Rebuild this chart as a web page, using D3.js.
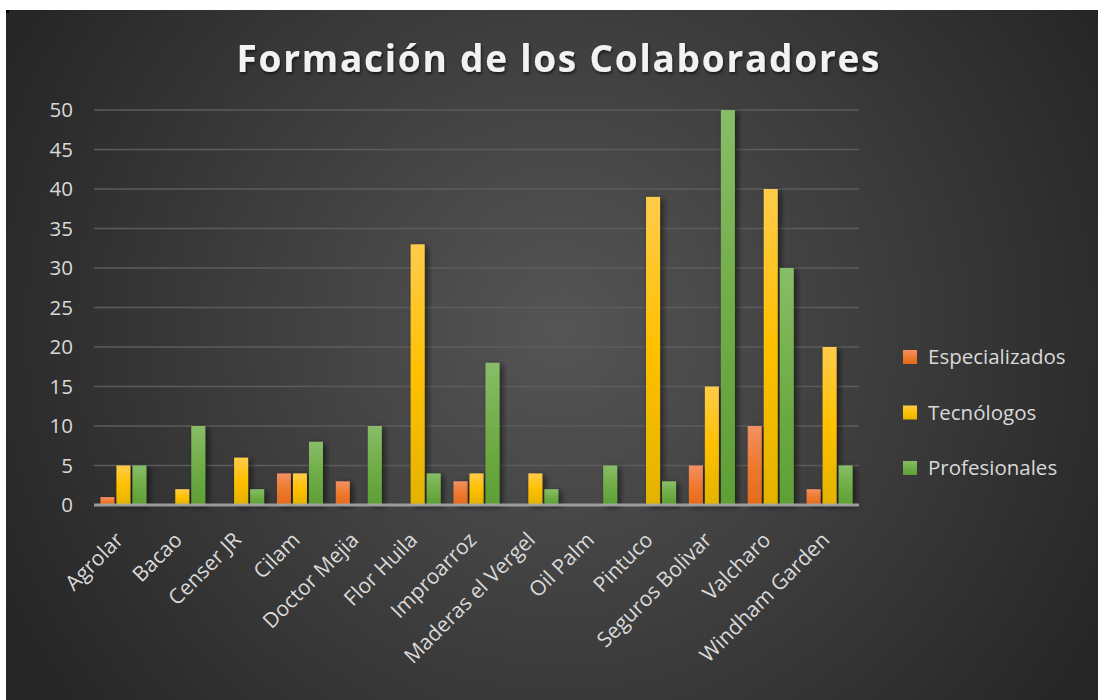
<!DOCTYPE html>
<html>
<head>
<meta charset="utf-8">
<script src="https://cdn.jsdelivr.net/npm/d3@7"></script>
<style>
  html, body { margin: 0; padding: 0; background: #ffffff; }
  svg { display: block; }
  text { font-family: "Open Sans", "Noto Sans", sans-serif; }
</style>
</head>
<body>
<div id="chart"></div>
<script>
// data
var categories = ["Agrolar", "Bacao", "Censer JR", "Cilam", "Doctor Mejia", "Flor Huila",
    "Improarroz", "Maderas el Vergel", "Oil Palm", "Pintuco", "Seguros Bolivar", "Valcharo", "Windham Garden"];
var seriesNames = ["Especializados", "Tecnólogos", "Profesionales"];
var especializados = [1, 0, 0, 4, 3, 0, 3, 0, 0, 0, 5, 10, 2];
var tecnologos     = [5, 2, 6, 4, 0, 33, 4, 4, 0, 39, 15, 40, 20];
var profesionales  = [5, 10, 2, 8, 10, 4, 18, 2, 5, 3, 50, 30, 5];
var yTicks = [0, 5, 10, 15, 20, 25, 30, 35, 40, 45, 50];
var seriesValues = [especializados, tecnologos, profesionales];

var W = 1099, H = 700;
var svg = d3.select("#chart").append("svg").attr("width", W).attr("height", H);
var defs = svg.append("defs");

var bg = defs.append("radialGradient").attr("id", "bg")
    .attr("gradientUnits", "userSpaceOnUse")
    .attr("cx", 560).attr("cy", 330).attr("r", 620);
bg.append("stop").attr("offset", "0%").attr("stop-color", "#555555");
bg.append("stop").attr("offset", "100%").attr("stop-color", "#262626");

// bar gradients, lighter at the top
var grads = [
    ["#f39063", "#ee7a2f", "#e46a1c"],
    ["#ffcc4a", "#ffc000", "#e3b300"],
    ["#88bd68", "#70ad47", "#5e9f35"]
];
grads.forEach(function(g, i) {
    var lg = defs.append("linearGradient").attr("id", "bar" + i)
        .attr("x1", 0).attr("y1", 0).attr("x2", 0).attr("y2", 1);
    lg.append("stop").attr("offset", "0%").attr("stop-color", g[0]);
    lg.append("stop").attr("offset", "50%").attr("stop-color", g[1]);
    lg.append("stop").attr("offset", "100%").attr("stop-color", g[2]);
});

var shadow = defs.append("filter").attr("id", "shadow")
    .attr("x", "-50%").attr("y", "-10%").attr("width", "200%").attr("height", "130%");
shadow.append("feDropShadow").attr("dx", 3).attr("dy", 2).attr("stdDeviation", 3)
    .attr("flood-color", "#000").attr("flood-opacity", 0.55);

var tshadow = defs.append("filter").attr("id", "tshadow")
    .attr("x", "-10%").attr("y", "-30%").attr("width", "120%").attr("height", "160%");
tshadow.append("feDropShadow").attr("dx", 1).attr("dy", 2).attr("stdDeviation", 1.5)
    .attr("flood-color", "#000").attr("flood-opacity", 0.6);

svg.append("rect").attr("x", 6).attr("y", 10).attr("width", 1092).attr("height", 690)
    .attr("fill", "url(#bg)");
svg.append("rect").attr("x", 6).attr("y", 10).attr("width", 3).attr("height", 3).attr("fill", "#000");

var plotL = 94, plotR = 859, plotT = 110, plotB = 505;

var x = d3.scaleBand().domain(categories).range([plotL, plotR]).padding(0);
var bw = x.bandwidth();
var groupW = 46;
var xs = d3.scaleBand().domain(d3.range(3))
    .range([(bw - groupW) / 2, (bw + groupW) / 2])
    .paddingInner(0.125).paddingOuter(0);
var y = d3.scaleLinear().domain([0, 50]).range([plotB, plotT]);

// gridlines
svg.append("g").selectAll("line").data(yTicks.filter(function(d) { return d > 0; }))
    .enter().append("line")
    .attr("x1", plotL).attr("x2", plotR)
    .attr("y1", function(d) { return y(d); }).attr("y2", function(d) { return y(d); })
    .attr("stroke", "#5c5c5c").attr("stroke-width", 1.5);

// y axis labels
svg.append("g").selectAll("text").data(yTicks).enter().append("text")
    .attr("x", 73).attr("y", function(d) { return y(d); })
    .attr("dy", "0.35em").attr("text-anchor", "end")
    .attr("font-size", 20.5).attr("fill", "#d9d9d9")
    .text(function(d) { return d; });

// bars
var groups = svg.append("g").selectAll("g").data(categories).enter().append("g")
    .attr("transform", function(d) { return "translate(" + x(d) + ",0)"; });
groups.selectAll("rect")
    .data(function(d, i) {
        return seriesValues.map(function(s, k) { return { k: k, v: s[i] }; });
    })
    .enter().append("rect")
    .filter(function(d) { return d.v > 0; })
    .attr("x", function(d) { return xs(d.k); })
    .attr("width", xs.bandwidth())
    .attr("y", function(d) { return y(d.v); })
    .attr("height", function(d) { return plotB - y(d.v); })
    .attr("fill", function(d) { return "url(#bar" + d.k + ")"; })
    .attr("filter", "url(#shadow)");

// baseline
svg.append("line").attr("x1", plotL).attr("x2", plotR)
    .attr("y1", plotB).attr("y2", plotB)
    .attr("stroke", "#a6a6a6").attr("stroke-width", 3).attr("opacity", 0.9);

// x labels, rotated
svg.append("g").selectAll("text").data(categories).enter().append("text")
    .attr("transform", function(d) {
        return "translate(" + (x(d) + bw / 2 - 4) + "," + 536 + ") rotate(-45)";
    })
    .attr("text-anchor", "end").attr("dy", "0.35em")
    .attr("font-size", 21).attr("fill", "#d9d9d9")
    .text(function(d) { return d; });

// title
svg.append("text").attr("x", 558).attr("y", 72)
    .attr("text-anchor", "middle")
    .attr("font-size", 37).attr("font-weight", "bold").attr("fill", "#f2f2f2")
    .attr("textLength", 643).attr("lengthAdjust", "spacing")
    .attr("filter", "url(#tshadow)")
    .text("Formación de los Colaboradores");

// legend
var legend = svg.append("g").selectAll("g").data(seriesNames).enter().append("g")
    .attr("transform", function(d, i) { return "translate(903," + (357 + i * 55.5) + ")"; });
legend.append("rect").attr("x", 0).attr("y", -7).attr("width", 14).attr("height", 14)
    .attr("fill", function(d, i) { return "url(#bar" + i + ")"; });
legend.append("text").attr("x", 25).attr("dy", "0.35em")
    .attr("font-size", 20.5).attr("fill", "#d9d9d9")
    .text(function(d) { return d; });
</script>
</body>
</html>
